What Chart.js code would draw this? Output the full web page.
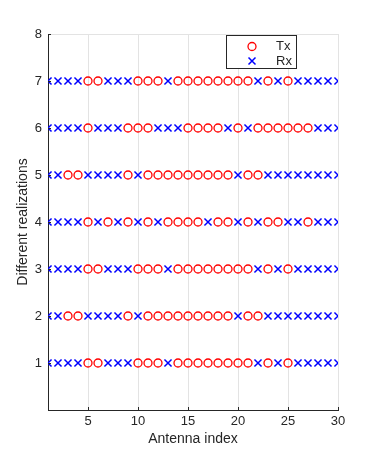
<!DOCTYPE html>
<html>
<head>
<meta charset="utf-8">
<script src="https://cdn.jsdelivr.net/npm/chart.js@4"></script>
<style>
  html, body { margin: 0; padding: 0; background: #fff; }
  canvas { display: block; }
</style>
</head>
<body>
<canvas id="chart" width="374" height="456"></canvas>
<script>
// antenna indices and realizations
var antennas = [1, 2, 3, 4, 5, 6, 7, 8, 9, 10, 11, 12, 13, 14, 15, 16, 17, 18, 19, 20, 21, 22, 23, 24, 25, 26, 27, 28, 29, 30];
var realizations = [1, 2, 3, 4, 5, 6, 7];

// antennas used as Tx in each realization (the rest are Rx)
var txReal1 = [5, 6, 10, 11, 12, 14, 15, 16, 17, 18, 19, 20, 21, 23, 25];
var txReal2 = [3, 4, 9, 11, 12, 13, 14, 15, 16, 17, 18, 19, 21, 22];
var txReal3 = [5, 6, 10, 11, 12, 14, 15, 16, 17, 18, 19, 20, 21, 23, 25];
var txReal4 = [5, 7, 9, 11, 13, 14, 15, 16, 18, 19, 21, 23, 24, 27];
var txReal5 = [3, 4, 9, 11, 12, 13, 14, 15, 16, 17, 18, 19, 21, 22];
var txReal6 = [5, 9, 10, 11, 15, 16, 17, 18, 20, 22, 23, 24, 25, 26, 27];
var txReal7 = [5, 6, 10, 11, 12, 14, 15, 16, 17, 18, 19, 20, 21, 23, 25];
var txSets = [txReal1, txReal2, txReal3, txReal4, txReal5, txReal6, txReal7];

var xTicks = [5, 10, 15, 20, 25, 30];
var yTicks = [1, 2, 3, 4, 5, 6, 7, 8];

var txPoints = [];
var rxPoints = [];
realizations.forEach(function(r, i) {
    antennas.forEach(function(a) {
        if (txSets[i].indexOf(a) >= 0) txPoints.push({x: a, y: r});
        else rxPoints.push({x: a, y: r});
    });
});

var FONT = '"Liberation Sans", Arial, Helvetica, sans-serif';
var AXIS = '#262626';
var GRID = '#e3e3e3';

// legend box drawn inside the plot, top right
var boxLegend = {
    id: 'boxLegend',
    afterDraw: function(chart) {
        var c = chart.ctx;
        c.save();
        c.fillStyle = '#fff';
        c.fillRect(226.5, 35.5, 70, 33);
        c.strokeStyle = AXIS;
        c.lineWidth = 1;
        c.strokeRect(226.5, 35.5, 70, 33);
        // Tx
        c.strokeStyle = '#ff0000';
        c.lineWidth = 1.3;
        c.beginPath();
        c.arc(252, 46.5, 4, 0, Math.PI * 2);
        c.stroke();
        // Rx
        c.strokeStyle = '#0000ff';
        c.lineWidth = 1.5;
        c.beginPath();
        c.moveTo(248.5, 57.5); c.lineTo(255.5, 64.5);
        c.moveTo(255.5, 57.5); c.lineTo(248.5, 64.5);
        c.stroke();
        c.fillStyle = AXIS;
        c.font = '13px ' + FONT;
        c.textBaseline = 'middle';
        c.fillText('Tx', 276, 46.5);
        c.fillText('Rx', 276, 61);
        c.restore();
    }
};

// small inward ticks like the original axes
var innerTicks = {
    id: 'innerTicks',
    afterDatasetsDraw: function(chart) {
        var c = chart.ctx, xs = chart.scales.x, ys = chart.scales.y, a = chart.chartArea;
        c.save();
        c.strokeStyle = AXIS;
        c.lineWidth = 1;
        c.beginPath();
        xTicks.forEach(function(v) {
            var px = Math.round(xs.getPixelForValue(v)) + 0.5;
            c.moveTo(px, a.bottom); c.lineTo(px, a.bottom - 3);
        });
        yTicks.forEach(function(v) {
            var py = Math.round(ys.getPixelForValue(v)) + 0.5;
            c.moveTo(a.left, py); c.lineTo(a.left + 3, py);
        });
        c.stroke();
        c.restore();
    }
};

new Chart(document.getElementById('chart'), {
    type: 'scatter',
    data: {
        datasets: [{
            label: 'Tx',
            data: txPoints,
            pointStyle: 'circle',
            pointRadius: 4,
            pointHoverRadius: 4,
            borderColor: '#ff0000',
            backgroundColor: 'rgba(0,0,0,0)',
            pointBorderWidth: 1.3
        }, {
            label: 'Rx',
            data: rxPoints,
            pointStyle: 'crossRot',
            pointRadius: 5,
            pointHoverRadius: 5,
            borderColor: '#0000ff',
            backgroundColor: '#0000ff',
            pointBorderWidth: 1.5
        }]
    },
    options: {
        responsive: false,
        animation: false,
        events: [],
        layout: { padding: { top: 34, right: 36, left: 0, bottom: 0 } },
        plugins: { legend: { display: false }, tooltip: { enabled: false } },
        scales: {
            x: {
                type: 'linear',
                min: 1,
                max: 30,
                afterBuildTicks: function(s) { s.ticks = xTicks.map(function(v) { return {value: v}; }); },
                afterFit: function(s) { s.height = 46; },
                grid: { color: GRID, drawTicks: false },
                border: { color: AXIS },
                ticks: { color: AXIS, font: { family: FONT, size: 13 }, padding: 4, maxRotation: 0 },
                title: { display: true, text: 'Antenna index', color: AXIS, font: { family: FONT, size: 14 }, padding: { top: 0, bottom: 8 } }
            },
            y: {
                type: 'linear',
                min: 0,
                max: 8,
                afterBuildTicks: function(s) { s.ticks = yTicks.map(function(v) { return {value: v}; }); },
                afterFit: function(s) { s.width = 48; },
                grid: {
                    drawTicks: false,
                    color: function(ctx) { return ctx.tick && ctx.tick.value === 8 ? GRID : 'rgba(0,0,0,0)'; }
                },
                border: { color: AXIS },
                ticks: { color: AXIS, font: { family: FONT, size: 13 }, padding: 6 },
                title: { display: true, text: 'Different realizations', color: AXIS, font: { family: FONT, size: 14 }, padding: { top: 15, bottom: 0 } }
            }
        }
    },
    plugins: [boxLegend, innerTicks]
});
</script>
</body>
</html>
